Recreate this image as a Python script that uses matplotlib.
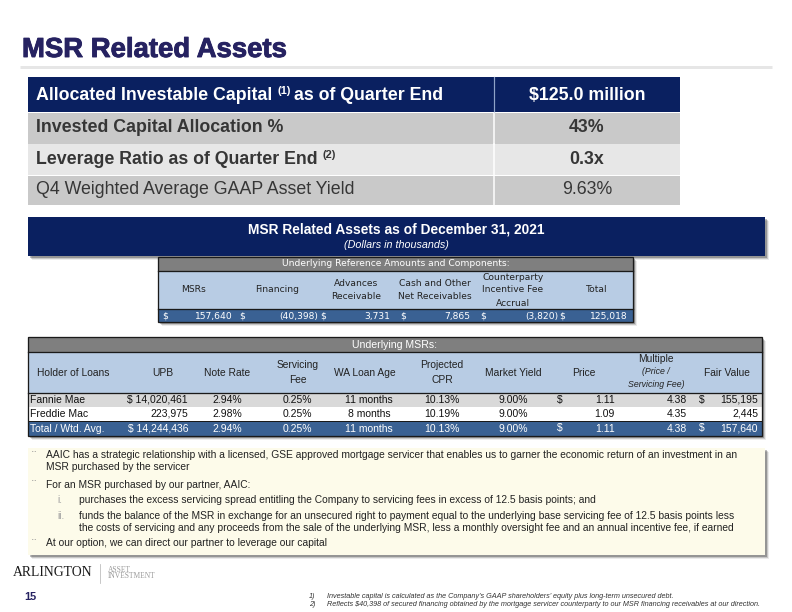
import matplotlib
matplotlib.use("Agg")
import matplotlib.pyplot as plt
import matplotlib.patheffects as pe
from matplotlib.patches import Rectangle

plt.rcParams['font.family'] = ['Liberation Sans', 'DejaVu Sans']

# --- datos ---
title = "MSR Related Assets"

top_header = ("Allocated Investable Capital", "(1)", "as of Quarter End", "$125.0 million")
top_labels = ["Invested Capital Allocation %", "Leverage Ratio as of Quarter End", "Q4 Weighted Average GAAP Asset Yield"]
top_sups = ["", "(2)", ""]
top_values = ["43%", "0.3x", "9.63%"]

band_title = "MSR Related Assets as of December 31, 2021"
band_sub = "(Dollars in thousands)"

ref_caption = "Underlying Reference Amounts and Components:"
ref_headers = ["MSRs", "Financing", "Advances\nReceivable", "Cash and Other\nNet Receivables",
               "Counterparty\nIncentive Fee\nAccrual", "Total"]
ref_values = ["157,640", "(40,398)", "3,731", "7,865", "(3,820)", "125,018"]

msr_caption = "Underlying MSRs:"
msr_headers = ["Holder of Loans", "UPB", "Note Rate", "Servicing\nFee", "WA Loan Age",
               "Projected\nCPR", "Market Yield", "Price", "Multiple", "Fair Value"]
holders = ["Fannie Mae", "Freddie Mac", "Total / Wtd. Avg."]
upb = ["$ 14,020,461", "223,975", "$ 14,244,436"]
note_rate = ["2.94%", "2.98%", "2.94%"]
serv_fee = ["0.25%", "0.25%", "0.25%"]
loan_age = ["11 months", "8 months", "11 months"]
cpr = ["10.13%", "10.19%", "10.13%"]
mkt_yield = ["9.00%", "9.00%", "9.00%"]
price = ["1.11", "1.09", "1.11"]
price_dollar = [True, False, True]
multiple = ["4.38", "4.35", "4.38"]
fair_value = ["155,195", "2,445", "157,640"]
fv_dollar = [True, False, True]

bullets = [
    ("b", ["AAIC has a strategic relationship with a licensed, GSE approved mortgage servicer that enables us to garner the economic return of an investment in an",
           "MSR purchased by the servicer"]),
    ("b", ["For an MSR purchased by our partner, AAIC:"]),
    ("i.", ["purchases the excess servicing spread entitling the Company to servicing fees in excess of 12.5 basis points; and"]),
    ("ii.", ["funds the balance of the MSR in exchange for an unsecured right to payment equal to the underlying base servicing fee of 12.5 basis points less",
             "the costs of servicing and any proceeds from the sale of the underlying MSR, less a monthly oversight fee and an annual incentive fee, if earned"]),
    ("b", ["At our option, we can direct our partner to leverage our capital"]),
]

footnotes = ["Investable capital is calculated as the Company\u2019s GAAP shareholders\u2019 equity plus long-term unsecured debt.",
             "Reflects $40,398 of secured financing obtained by the mortgage servicer counterparty to our MSR financing receivables at our direction."]

# --- colores ---
NAVY = '#0A2060'
TITLE_C = '#262261'
GREY_D = '#C9C9C9'
GREY_L = '#E7E7E7'
TXT = '#363636'
BLUE_HDR = '#B8CCE4'
BLUE_ROW = '#3A6193'
CAP_GREY = '#7F7F7F'

fig = plt.figure(figsize=(11, 8.5), dpi=72)
ax = fig.add_axes([0, 0, 1, 1])
ax.set_xlim(0, 792)
ax.set_ylim(612, 0)
ax.axis('off')
renderer = fig.canvas.get_renderer()


def rect(x0, y0, x1, y1, color, z=1, ec='none', lw=0):
    ax.add_patch(Rectangle((x0, y0), x1 - x0, y1 - y0, facecolor=color, edgecolor=ec, lw=lw, zorder=z))


def shadow(x0, y0, x1, y1):
    for i, a in enumerate([0.25, 0.15, 0.08]):
        ax.add_patch(Rectangle((x0 + 2 + i, y0 + 2 + i), x1 - x0, y1 - y0, facecolor='black',
                               alpha=a, edgecolor='none', zorder=0.5))


def runs(x, y, parts, color, z=5):
    # texto con superindices: se coloca pieza por pieza
    for s, size, weight, dy in parts:
        t = ax.text(x, y + dy, s, fontsize=size, fontweight=weight, color=color, va='center', ha='left', zorder=z)
        bb = t.get_window_extent(renderer)
        x += bb.width + size * 0.28


def multiline(x, y, s, step, **kw):
    # varias lineas centradas en y, separadas por step px
    lines = s.split('\n')
    y0 = y - step * (len(lines) - 1) / 2
    for i, ln in enumerate(lines):
        ax.text(x, y0 + i * step, ln, ha='center', va='center', **kw)


# titulo
ax.text(22, 50, title, fontsize=27.5, fontweight='bold', color=TITLE_C, va='center', ha='left',
        path_effects=[pe.withStroke(linewidth=0.9, foreground=TITLE_C)])
ax.plot([20, 772], [67, 67], color='#E6E6E6', lw=3, solid_capstyle='butt')

# tabla superior
rect(28, 77, 680, 112, NAVY)
ax.plot([494, 494], [77, 112], color='#8FA3C8', lw=1.2, zorder=3)
runs(36, 95, [(top_header[0], 17.8, 'bold', 0), (top_header[1], 11, 'bold', -4),
              (top_header[2], 17.8, 'bold', 0)], 'white')
ax.text(587, 95, top_header[3], fontsize=17.8, fontweight='bold', color='white', ha='center', va='center')
row_edges = [112, 143.5, 175, 205]
row_cols = [GREY_D, GREY_L, GREY_D]
for i, lab in enumerate(top_labels):
    y0, y1 = row_edges[i], row_edges[i + 1]
    rect(28, y0 + 0.8, 680, y1, row_cols[i])
    ax.plot([494, 494], [y0 + 0.8, y1], color='white', lw=1.5, zorder=3)
    w = 'bold' if i < 2 else 'normal'
    parts = [(lab, 17.8, w, 0)]
    if top_sups[i]:
        parts.append((top_sups[i], 11, w, -4))
    runs(36, (y0 + y1) / 2, parts, TXT)
    ax.text(587, (y0 + y1) / 2, top_values[i], fontsize=17.8, fontweight=w, color=TXT, ha='center', va='center')

# banda azul
shadow(28, 217, 765, 256)
rect(28, 217, 765, 256, NAVY)
ax.text(396, 230, band_title, fontsize=13.8, fontweight='bold', color='white', ha='center', va='center')
ax.text(396, 245.5, band_sub, fontsize=10.7, style='italic', color='white', ha='center', va='center')

# tabla de referencia
rx0, rx1 = 158, 633
RF = dict(fontsize=9.1, family='DejaVu Sans')
shadow(rx0, 257, rx1, 322)
rect(rx0, 257, rx1, 271, CAP_GREY, z=1)
rect(rx0, 271, rx1, 309, BLUE_HDR, z=1)
rect(rx0, 309, rx1, 322, BLUE_ROW, z=1)
ax.add_patch(Rectangle((rx0, 257), rx1 - rx0, 65, facecolor='none', edgecolor='#1A1A1A', lw=1.3, zorder=4))
ax.plot([rx0, rx1], [271, 271], color='#1A1A1A', lw=1.3, zorder=4)
ax.plot([rx0, rx1], [309, 309], color='#1A1A1A', lw=1.3, zorder=4)
ax.text((rx0 + rx1) / 2, 264, ref_caption, color='white', ha='center', va='center', **RF)
ref_centers = [193, 277, 356, 435, 513, 597]
ref_dollar_x = [165, 242, 323, 403, 483, 562]
ref_right = [233, 318, 390, 470, 558, 628]
for i, h in enumerate(ref_headers):
    multiline(ref_centers[i], 290, h, 13, color='#222222', **RF)
    ax.text(ref_dollar_x[i], 316, '$', color='white', ha='center', va='center', zorder=5, **RF)
    v = ref_values[i]
    ax.text(ref_right[i], 316, v, color='white', ha='right', va='center', zorder=5, **RF)

# tabla MSRs
mx0, mx1 = 28, 762
shadow(mx0, 337, mx1, 436)
rect(mx0, 337, mx1, 352, CAP_GREY)
rect(mx0, 352, mx1, 393, BLUE_HDR)
rect(mx0, 393, mx1, 407, '#D9D9D9')
rect(mx0, 407, mx1, 421, 'white')
rect(mx0, 421, mx1, 436, BLUE_ROW)
ax.add_patch(Rectangle((mx0, 337), mx1 - mx0, 99, facecolor='none', edgecolor='#1A1A1A', lw=1.3, zorder=4))
ax.plot([mx0, mx1], [352, 352], color='#1A1A1A', lw=1.3, zorder=4)
ax.plot([mx0, mx1], [393, 393], color='#1A1A1A', lw=1.3, zorder=4)
ax.plot([mx0, mx1], [421, 421], color='#1A1A1A', lw=1.0, zorder=4)
ax.text((mx0 + mx1) / 2, 344.5, msr_caption, fontsize=10.5, color='white', ha='center', va='center')
hdr_x = [73, 163, 227, 298, 365, 442, 513, 584, 656, 727]
for i, h in enumerate(msr_headers):
    if h == "Multiple":
        ax.text(hdr_x[i], 359.5, h, fontsize=10.3, color='#222222', ha='center', va='center')
        ax.text(hdr_x[i], 372, "(Price /", fontsize=8.8, style='italic', color='#222222', ha='center', va='center')
        ax.text(hdr_x[i], 384.5, "Servicing Fee)", fontsize=8.8, style='italic', color='#222222', ha='center', va='center')
    else:
        multiline(hdr_x[i], 372.5, h, 15, fontsize=10.3, color='#222222')
row_y = [400, 414, 428.5]
for r in range(3):
    c = 'white' if r == 2 else '#111111'
    y = row_y[r]
    kw = dict(fontsize=10.4, color=c, va='center', zorder=5)
    ax.text(30, y, holders[r], ha='left', **kw)
    ax.text(188, y, upb[r], ha='right', **kw)
    ax.text(227, y, note_rate[r], ha='center', **kw)
    ax.text(297, y, serv_fee[r], ha='center', **kw)
    ax.text(369, y, loan_age[r], ha='center', **kw)
    ax.text(442, y, cpr[r], ha='center', **kw)
    ax.text(513, y, mkt_yield[r], ha='center', **kw)
    if price_dollar[r]:
        ax.text(560, y, '$', ha='center', **kw)
    ax.text(615, y, price[r], ha='right', **kw)
    ax.text(687, y, multiple[r], ha='right', **kw)
    if fv_dollar[r]:
        ax.text(702, y, '$', ha='center', **kw)
    ax.text(758, y, fair_value[r], ha='right', **kw)

# cuadro de viñetas
shadow(28, 448, 765, 555)
rect(28, 448, 765, 555, '#FDFBEA')
line_y = [455, 467, 484.5, 500, 516, 528, 543]
k = 0
for mark, lines in bullets:
    for j, ln in enumerate(lines):
        y = line_y[k]
        if mark == "b":
            if j == 0:
                ax.text(32, y + 2, '\u00a8', fontsize=13, color='#8C8C8C', ha='left', va='center')
            ax.text(46, y, ln, fontsize=10.2, color='#222222', ha='left', va='center')
        else:
            if j == 0:
                ax.text(57, y, mark, fontsize=10.2, color='#A0A0A0', ha='left', va='center')
            ax.text(79, y, ln, fontsize=10.2, color='#222222', ha='left', va='center')
        k += 1

# logo y pie
ax.text(13, 573, "ARLINGTON", fontsize=13.8, family='Liberation Serif', color='#1A1A1A', ha='left', va='center')
ax.plot([100, 100], [564, 583], color='#BBBBBB', lw=0.8)
ax.text(108, 569.5, "ASSET", fontsize=7.5, family='Liberation Serif', color='#9A9A9A', ha='left', va='center')
ax.text(108, 576, "INVESTMENT", fontsize=7.5, family='Liberation Serif', color='#9A9A9A', ha='left', va='center')
ax.text(24, 597, "15", fontsize=11, fontweight='bold', color=TITLE_C, ha='left', va='center')
for i, fn in enumerate(footnotes):
    y = 596 + i * 9
    ax.text(309, y, f"{i + 1})", fontsize=7.2, style='italic', color='#333333', ha='left', va='center')
    ax.text(327, y, fn, fontsize=7.2, style='italic', color='#333333', ha='left', va='center')

fig.savefig('out.png', dpi=72)
